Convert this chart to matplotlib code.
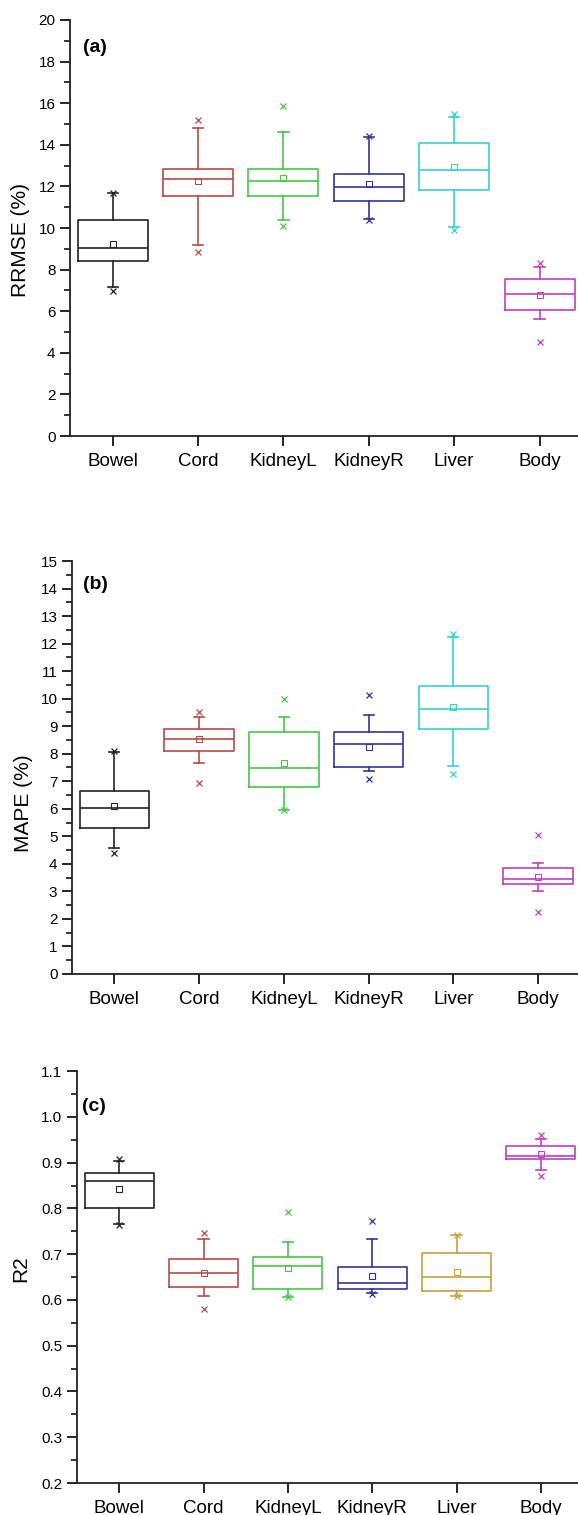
import matplotlib
matplotlib.use("Agg")
import matplotlib.pyplot as plt
from matplotlib.ticker import MultipleLocator

plt.rcParams['font.family'] = ['Liberation Sans', 'DejaVu Sans']

# categories
organs = ['Bowel', 'Cord', 'KidneyL', 'KidneyR', 'Liver', 'Body']

# (a) RRMSE (%)
rrmse_q1 = [8.40, 11.55, 11.52, 11.31, 11.84, 6.05]
rrmse_med = [9.06, 12.37, 12.26, 11.98, 12.77, 6.83]
rrmse_q3 = [10.37, 12.82, 12.83, 12.59, 14.10, 7.57]
rrmse_mean = [9.25, 12.24, 12.40, 12.11, 12.93, 6.77]
rrmse_wlo = [7.17, 9.17, 10.37, 10.43, 10.05, 5.63]
rrmse_whi = [11.68, 14.83, 14.61, 14.37, 15.36, 8.11]
rrmse_min = [6.96, 8.83, 10.11, 10.37, 9.92, 4.54]
rrmse_max = [11.68, 15.20, 15.87, 14.40, 15.49, 8.34]

# (b) MAPE (%)
mape_q1 = [5.31, 8.10, 6.80, 7.51, 8.90, 3.26]
mape_med = [6.02, 8.52, 7.49, 8.34, 9.61, 3.46]
mape_q3 = [6.65, 8.91, 8.78, 8.80, 10.47, 3.85]
mape_mean = [6.11, 8.52, 7.65, 8.24, 9.69, 3.54]
mape_wlo = [4.59, 7.66, 5.96, 7.36, 7.57, 3.01]
mape_whi = [8.05, 9.32, 9.33, 9.39, 12.23, 4.02]
mape_min = [4.41, 6.92, 5.96, 7.09, 7.26, 2.24]
mape_max = [8.11, 9.52, 9.98, 10.12, 12.34, 5.05]

# (c) R2
r2_q1 = [0.800, 0.629, 0.625, 0.623, 0.619, 0.907]
r2_med = [0.860, 0.658, 0.674, 0.636, 0.650, 0.915]
r2_q3 = [0.877, 0.690, 0.693, 0.672, 0.703, 0.937]
r2_mean = [0.842, 0.658, 0.669, 0.652, 0.662, 0.919]
r2_wlo = [0.766, 0.609, 0.607, 0.615, 0.609, 0.884]
r2_whi = [0.903, 0.734, 0.727, 0.734, 0.742, 0.952]
r2_min = [0.764, 0.580, 0.607, 0.612, 0.608, 0.871]
r2_max = [0.909, 0.747, 0.793, 0.772, 0.743, 0.960]

colors_ab = ['#222222', '#b84a46', '#44c844', '#34349a', '#33d2d2', '#c040c0']
colors_c = ['#222222', '#b84a46', '#44c844', '#34349a', '#c9a040', '#c040c0']


def draw(ax, q1, med, q3, mean, wlo, whi, mn, mx, colors):
    for i in range(len(organs)):
        st = dict(med=med[i], q1=q1[i], q3=q3[i], mean=mean[i],
                  whislo=wlo[i], whishi=whi[i], fliers=[mn[i], mx[i]])
        c = colors[i]
        lp = dict(color=c, linewidth=1.2)
        ax.bxp([st], positions=[i + 1], widths=0.82, capwidths=0.12,
               showmeans=True, patch_artist=False,
               boxprops=lp, whiskerprops=lp, capprops=lp, medianprops=lp,
               meanprops=dict(marker='s', markersize=4, markerfacecolor='none',
                              markeredgecolor=c, markeredgewidth=0.8),
               flierprops=dict(marker='x', markersize=5, markeredgecolor=c,
                               markeredgewidth=0.9, linestyle='none'),
               manage_ticks=False)
    ax.set_xticks(range(1, len(organs) + 1))
    ax.set_xticklabels(organs, fontsize=13.5)
    ax.spines['top'].set_visible(False)
    ax.spines['right'].set_visible(False)
    for s in ['left', 'bottom']:
        ax.spines[s].set_linewidth(1.3)
        ax.spines[s].set_color('#222222')
    ax.tick_params(axis='x', direction='out', length=7, width=1.2, pad=5)
    ax.tick_params(axis='y', which='major', direction='out', length=7, width=1.2, labelsize=11)
    ax.tick_params(axis='y', which='minor', direction='out', length=4, width=1.1)


fig = plt.figure(figsize=(5.78, 15.15), dpi=100)

ax1 = fig.add_axes([0.1211, 0.7122, 0.8789, 0.2746])
draw(ax1, rrmse_q1, rrmse_med, rrmse_q3, rrmse_mean, rrmse_wlo, rrmse_whi,
     rrmse_min, rrmse_max, colors_ab)
ax1.set_xlim(0.5, 6.45)
ax1.set_ylim(0, 20)
ax1.yaxis.set_major_locator(MultipleLocator(2))
ax1.yaxis.set_minor_locator(MultipleLocator(1))
ax1.set_ylabel('RRMSE (%)', fontsize=15)
ax1.yaxis.set_label_coords(-0.079, 0.47)
ax1.text(0.026, 0.935, '(a)', transform=ax1.transAxes, fontsize=14,
         fontweight='bold', va='center', ha='left')

ax2 = fig.add_axes([0.1246, 0.3571, 0.8754, 0.2726])
draw(ax2, mape_q1, mape_med, mape_q3, mape_mean, mape_wlo, mape_whi,
     mape_min, mape_max, colors_ab)
ax2.set_xlim(0.5, 6.47)
ax2.set_ylim(0, 15)
ax2.yaxis.set_major_locator(MultipleLocator(1))
ax2.yaxis.set_minor_locator(MultipleLocator(0.5))
ax2.set_ylabel('MAPE (%)', fontsize=15)
ax2.yaxis.set_label_coords(-0.077, 0.414)
ax2.text(0.022, 0.942, '(b)', transform=ax2.transAxes, fontsize=14,
         fontweight='bold', va='center', ha='left')

ax3 = fig.add_axes([0.1332, 0.0211, 0.8668, 0.2719])
draw(ax3, r2_q1, r2_med, r2_q3, r2_mean, r2_wlo, r2_whi,
     r2_min, r2_max, colors_c)
ax3.set_xlim(0.5, 6.44)
ax3.set_ylim(0.2, 1.1)
ax3.yaxis.set_major_locator(MultipleLocator(0.1))
ax3.yaxis.set_minor_locator(MultipleLocator(0.05))
ax3.yaxis.set_major_formatter(plt.FormatStrFormatter('%.1f'))
ax3.set_ylabel('R2', fontsize=15)
ax3.yaxis.set_label_coords(-0.094, 0.52)
ax3.text(0.01, 0.913, '(c)', transform=ax3.transAxes, fontsize=14,
         fontweight='bold', va='center', ha='left')

fig.savefig('out.png', dpi=100)
